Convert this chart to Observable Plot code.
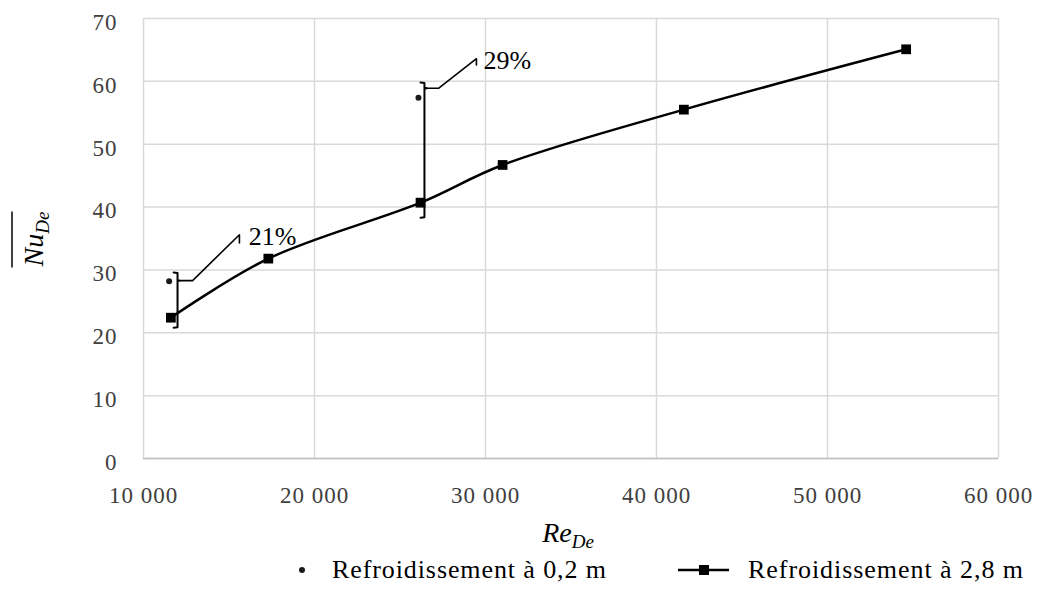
<!DOCTYPE html>
<html>
<head>
<meta charset="utf-8">
<script src="https://cdn.jsdelivr.net/npm/d3@7"></script>
<script src="https://cdn.jsdelivr.net/npm/@observablehq/plot@0.6"></script>
<style>
  html, body { margin: 0; padding: 0; background: #fff; }
  #chart { width: 1041px; }
  #chart text { font-family: 'Liberation Serif', serif; }
</style>
</head>
<body>
<div id="chart"></div>
<script>
// ---- Data ----
const xTicks = [10000, 20000, 30000, 40000, 50000, 60000];
const yTicks = [0, 10, 20, 30, 40, 50, 60, 70];

// Refroidissement à 0,2 m
const re02 = [11500, 26080];
const nu02 = [28.2, 57.4];

// Refroidissement à 2,8 m
const re28 = [11600, 17300, 26200, 31000, 41600, 54600];
const nu28 = [22.4, 31.8, 40.7, 46.7, 55.5, 65.1];

// Brackets with percentage annotations
const bracketLabels = ["21%", "29%"];
const bracketX = [11990, 26430];
const bracketTop = [29.6, 59.8];
const bracketBottom = [20.8, 38.3];
const bracketTip = [28.3, 58.9];
const leaderElbowX = [12870, 27250];
const leaderEndX = [15610, 29470];
const leaderEndY = [35.6, 63.6];
const leaderTickY = [34.3, 62.6];
const labelX = [16150, 29880];
const labelY = [34.0, 62.0];

const legendLabels = ["Refroidissement à 0,2 m", "Refroidissement à 2,8 m"];

// ---- Tables built from the arrays ----
const series02 = re02.map((x, i) => ({x, y: nu02[i]}));
const series28 = re28.map((x, i) => ({x, y: nu28[i]}));

const fmt = d => d3.format(",")(d).replace(/,/g, " ");

// bracket ("}" shaped brace) and leader polylines, in data units
const hookX = 230, hookY = 0.07, nubX = 140;
const bracePts = [];
const leaderPts = [];
bracketLabels.forEach((lab, i) => {
  const x = bracketX[i], t = bracketTop[i], b = bracketBottom[i], m = bracketTip[i];
  [[x - hookX, t], [x, t - hookY], [x, m + hookY], [x + nubX, m], [x, m - hookY], [x, b + hookY], [x - hookX, b]]
    .forEach(([px, py]) => bracePts.push({id: lab, x: px, y: py}));
  [[x + nubX, m], [leaderElbowX[i], m], [leaderEndX[i], leaderEndY[i]], [leaderEndX[i], leaderTickY[i]]]
    .forEach(([px, py]) => leaderPts.push({id: lab, x: px, y: py}));
});
const labels = bracketLabels.map((t, i) => ({t, x: labelX[i], y: labelY[i]}));

const serif = "'Liberation Serif', serif";
const gray = "#d9d9d9";
const plot = Plot.plot({
  width: 1041,
  height: 550,
  marginLeft: 143,
  marginRight: 43,
  marginTop: 18,
  marginBottom: 92,
  style: {fontFamily: serif, fontSize: "23px", background: "white", overflow: "visible"},
  x: {domain: [10000, 60000], label: null},
  y: {domain: [0, 70], label: null},
  marks: [
    Plot.gridX(xTicks, {stroke: gray, strokeOpacity: 1, strokeWidth: 1.5}),
    Plot.gridY(yTicks, {stroke: gray, strokeOpacity: 1, strokeWidth: 1.5}),
    Plot.ruleY([0], {stroke: "#bfbfbf", strokeWidth: 1.5}),
    Plot.axisX(xTicks, {tickSize: 0, tickPadding: 28, tickFormat: fmt, fill: "#404040", fontSize: 23, fontFamily: serif, label: null}),
    Plot.axisY(yTicks, {tickSize: 0, tickPadding: 26, dy: 4, fill: "#404040", fontSize: 23, fontFamily: serif, label: null}),
    Plot.line(series28, {x: "x", y: "y", curve: "catmull-rom", stroke: "black", strokeWidth: 2.5}),
    Plot.dot(series28, {x: "x", y: "y", symbol: "square", r: 5.5, fill: "black", stroke: "none"}),
    Plot.dot(series02, {x: "x", y: "y", r: 3, fill: "#1a1a1a", stroke: "none"}),
    Plot.line(bracePts, {x: "x", y: "y", z: "id", stroke: "black", strokeWidth: 2, curve: "linear"}),
    Plot.line(leaderPts, {x: "x", y: "y", z: "id", stroke: "black", strokeWidth: 1.6, curve: "linear"}),
    Plot.text(labels, {x: "x", y: "y", text: "t", textAnchor: "start", lineAnchor: "bottom", fontSize: 26, fontFamily: serif, fill: "black"})
  ]
});
document.getElementById("chart").appendChild(plot);

// axis tick label spacing (wider figures as in the reference)
d3.select(plot).selectAll("g[aria-label='x-axis tick label'] text, g[aria-label='y-axis tick label'] text")
  .style("letter-spacing", "1px");

// axis titles with subscripts
const svg = d3.select(plot);
const xt = svg.append("text")
  .attr("x", 568).attr("y", 542)
  .attr("text-anchor", "middle")
  .attr("font-family", serif)
  .attr("font-style", "italic").attr("font-size", 28).attr("fill", "black");
xt.append("tspan").text("Re");
xt.append("tspan").attr("font-size", 19).attr("dy", 6).text("De");

const yg = svg.append("g").attr("transform", "translate(43,239) rotate(-90)");
const yt = yg.append("text")
  .attr("text-anchor", "middle")
  .attr("font-family", serif)
  .attr("font-style", "italic").attr("font-size", 28).attr("fill", "black");
yt.append("tspan").text("Nu");
yt.append("tspan").attr("font-size", 19).attr("dy", 6).text("De");
const bb = yt.node().getBBox();
yg.append("line")
  .attr("x1", bb.x).attr("x2", bb.x + bb.width)
  .attr("y1", -31).attr("y2", -31)
  .attr("stroke", "black").attr("stroke-width", 1.5);

// legend below the chart
const leg = d3.select("#chart").append("svg")
  .attr("width", 1041).attr("height", 43).style("display", "block");
leg.append("circle").attr("cx", 302).attr("cy", 20).attr("r", 3).attr("fill", "#1a1a1a");
leg.append("text").attr("x", 332).attr("y", 28).attr("textLength", 274).attr("lengthAdjust", "spacing")
  .attr("font-family", serif).attr("font-size", 26).attr("fill", "black").text(legendLabels[0]);
leg.append("line").attr("x1", 678).attr("x2", 729).attr("y1", 20).attr("y2", 20).attr("stroke", "black").attr("stroke-width", 2.5);
leg.append("rect").attr("x", 699).attr("y", 15).attr("width", 10).attr("height", 10).attr("fill", "black");
leg.append("text").attr("x", 748).attr("y", 28).attr("textLength", 275).attr("lengthAdjust", "spacing")
  .attr("font-family", serif).attr("font-size", 26).attr("fill", "black").text(legendLabels[1]);
</script>
</body>
</html>
